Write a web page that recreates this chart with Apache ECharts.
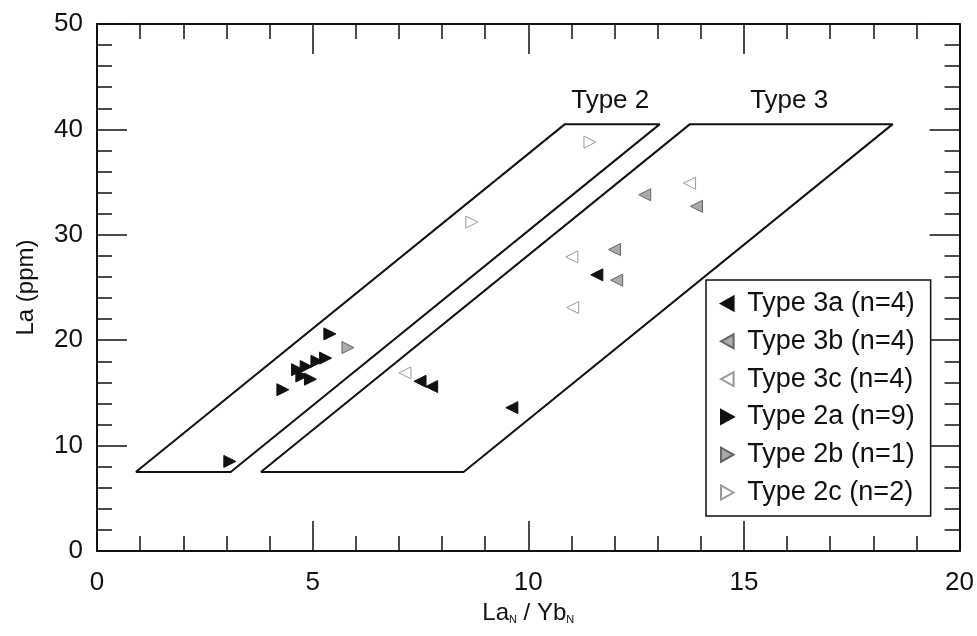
<!DOCTYPE html>
<html>
<head>
<meta charset="utf-8">
<script src="https://cdn.jsdelivr.net/npm/echarts@6/dist/echarts.min.js"></script>
<style>html,body{margin:0;padding:0;background:#fff}#c{width:977px;height:636px}</style>
</head>
<body>
<div id="c"></div>
<script>
// ---- data (La_N/Yb_N, La ppm) ----
const type3a = [[11.59, 26.2], [9.62, 13.6], [7.49, 16.1], [7.76, 15.6]];
const type3b = [[12.70, 33.8], [12.00, 28.6], [12.05, 25.7], [13.90, 32.7]];
const type3c = [[13.74, 34.9], [11.01, 27.9], [11.03, 23.1], [7.14, 16.9]];
const type2a = [[3.08, 8.5], [4.31, 15.3], [5.40, 20.6], [4.65, 17.2], [4.85, 17.5], [4.75, 16.6], [4.95, 16.3], [5.10, 18.0], [5.30, 18.3]];
const type2b = [[5.82, 19.3]];
const type2c = [[11.43, 38.8], [8.69, 31.2]];
const field2 = [[0.9, 7.5], [3.1, 7.5], [13.05, 40.5], [10.85, 40.5], [0.9, 7.5]];
const field3 = [[3.8, 7.5], [8.5, 7.5], [18.45, 40.5], [13.75, 40.5], [3.8, 7.5]];
const fieldLabels = [{ value: [11.9, 42.7], name: 'Type 2' }, { value: [16.05, 42.7], name: 'Type 3' }];
const seriesNames = ['Type 3a (n=4)', 'Type 3b (n=4)', 'Type 3c (n=4)', 'Type 2a (n=9)', 'Type 2b (n=1)', 'Type 2c (n=2)'];
const xTicks = { min: 0, max: 20, interval: 5 };
const yTicks = { min: 0, max: 50, interval: 10 };

const FONT = '"Liberation Sans", Arial, sans-serif';
const LEFT = 'path://M0,5L9,0L9,10Z';
const RIGHT = 'path://M9,5L0,0L0,10Z';

const chart = echarts.init(document.getElementById('c'));

function axisCommon(showLabel) {
  return {
    type: 'value',
    axisLine: { show: true, onZero: false, lineStyle: { color: '#111', width: 2 } },
    axisTick: { show: true, inside: true, length: 30, lineStyle: { color: '#111', width: 1.5 } },
    minorTick: { show: true, splitNumber: 5, length: 15, lineStyle: { color: '#111', width: 1.5 } },
    splitLine: { show: false },
    axisLabel: { show: showLabel, color: '#111', fontSize: 26, fontFamily: FONT },
  };
}

function pts(name, data, symbol, color, border) {
  return {
    name: name, type: 'scatter', data: data, symbol: symbol, symbolSize: 12,
    itemStyle: { color: color, borderColor: border, borderWidth: 1, opacity: 1 },
    z: 5
  };
}

const option = {
  animation: false,
  grid: { left: 97, right: 17, top: 24, bottom: 85 },
  xAxis: [
    Object.assign(axisCommon(true), {
      min: xTicks.min, max: xTicks.max, interval: xTicks.interval, position: 'bottom',
      axisLabel: { show: true, color: '#111', fontSize: 26, fontFamily: FONT, margin: 19 },
      name: '{a|La}{s|N}{a| / Yb}{s|N}', nameLocation: 'middle', nameGap: 48,
      nameTextStyle: {
        color: '#111', fontFamily: FONT,
        rich: {
          a: { fontSize: 24, fontFamily: FONT, color: '#111' },
          s: { fontSize: 11, fontFamily: FONT, color: '#111', verticalAlign: 'bottom', padding: [14, 0, 0, 0] }
        }
      }
    }),
    Object.assign(axisCommon(false), {
      min: xTicks.min, max: xTicks.max, interval: xTicks.interval, position: 'top'
    })
  ],
  yAxis: [
    Object.assign(axisCommon(true), {
      min: yTicks.min, max: yTicks.max, interval: yTicks.interval, position: 'left',
      axisLabel: { show: true, color: '#111', fontSize: 26, fontFamily: FONT, margin: 14 },
      name: 'La (ppm)', nameLocation: 'middle', nameGap: 59,
      nameTextStyle: { color: '#111', fontSize: 24, fontFamily: FONT }
    }),
    Object.assign(axisCommon(false), {
      min: yTicks.min, max: yTicks.max, interval: yTicks.interval, position: 'right'
    })
  ],
  legend: {
    data: seriesNames,
    orient: 'vertical', left: 706, top: 280,
    borderColor: '#111', borderWidth: 1.5, borderRadius: 0,
    padding: [10, 16, 10, 14],
    itemWidth: 14, itemHeight: 14, itemGap: 10.8,
    textStyle: { color: '#111', fontSize: 27, fontFamily: FONT, lineHeight: 26, padding: [0, 0, 0, 8] },
    backgroundColor: '#fff'
  },
  series: [
    { name: 'field2', type: 'line', data: field2, symbol: 'none', lineStyle: { color: '#111', width: 2 }, silent: true, z: 2 },
    { name: 'field3', type: 'line', data: field3, symbol: 'none', lineStyle: { color: '#111', width: 2 }, silent: true, z: 2 },
    {
      name: 'labels', type: 'scatter', data: fieldLabels, symbolSize: 1, silent: true,
      itemStyle: { opacity: 0 },
      label: { show: true, formatter: '{b}', color: '#111', opacity: 1, fontSize: 26, fontFamily: FONT, position: 'inside' }
    },
    pts(seriesNames[0], type3a, LEFT, '#111', '#111'),
    pts(seriesNames[1], type3b, LEFT, '#aaa', '#666'),
    pts(seriesNames[2], type3c, LEFT, '#fff', '#999'),
    pts(seriesNames[3], type2a, RIGHT, '#111', '#111'),
    pts(seriesNames[4], type2b, RIGHT, '#aaa', '#666'),
    pts(seriesNames[5], type2c, RIGHT, '#fff', '#999')
  ]
};
chart.setOption(option);
</script>
</body>
</html>
